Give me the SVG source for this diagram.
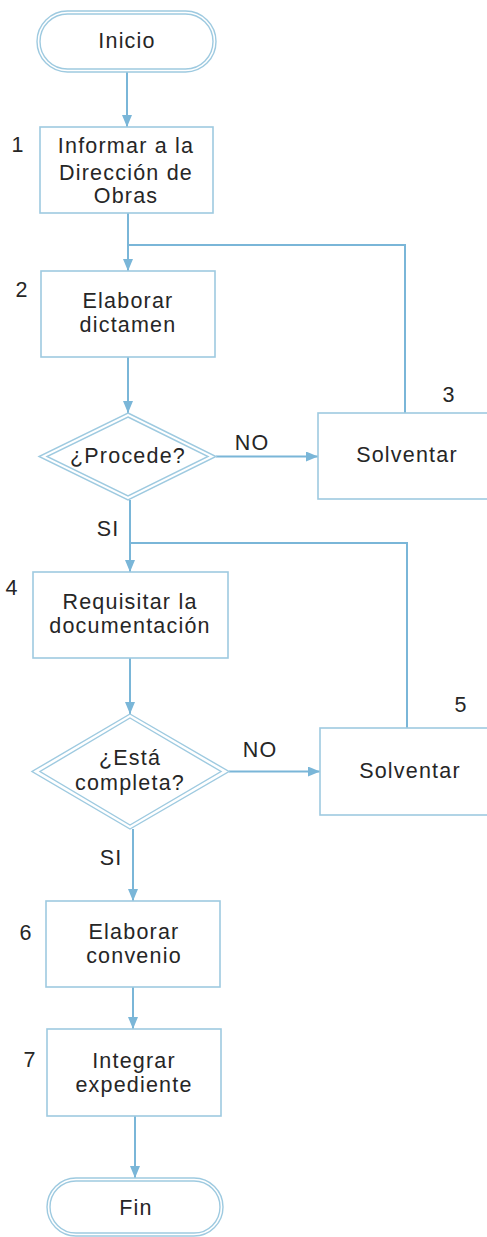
<svg xmlns="http://www.w3.org/2000/svg" width="487" height="1237" viewBox="0 0 487 1237">
<style>
.bg{fill:#ffffff}
.box{fill:#ffffff;stroke:#9ecae0;stroke-width:1.6}
.dbl{fill:none;stroke:#9ecae0;stroke-width:1.4}
.ln{fill:none;stroke:#7ab6d8;stroke-width:2}
text{font-family:"Liberation Sans",Arial,sans-serif;font-size:21.5px;fill:#262626;letter-spacing:1.2px}
.c{text-anchor:middle}
</style>
<defs>
<marker id="ah" viewBox="0 0 12 10" refX="12" refY="5" markerWidth="12" markerHeight="10" markerUnits="userSpaceOnUse" orient="auto">
<path d="M0,0 L12,5 L0,10 Z" fill="#7ab6d8"/>
</marker>
</defs>
<rect class="bg" x="0" y="0" width="487" height="1237"/>
<g id="connectors">
<line class="ln" x1="127" y1="72" x2="127" y2="127" marker-end="url(#ah)"/>
<line class="ln" x1="128" y1="213" x2="128" y2="271" marker-end="url(#ah)"/>
<polyline class="ln" points="405,413 405,245 128,245"/>
<line class="ln" x1="128" y1="357" x2="128" y2="413" marker-end="url(#ah)"/>
<line class="ln" x1="216" y1="456.5" x2="318" y2="456.5" marker-end="url(#ah)"/>
<line class="ln" x1="130" y1="500" x2="130" y2="572" marker-end="url(#ah)"/>
<polyline class="ln" points="407,728 407,543 130,543"/>
<line class="ln" x1="130" y1="658" x2="130" y2="714" marker-end="url(#ah)"/>
<line class="ln" x1="229" y1="771.5" x2="320" y2="771.5" marker-end="url(#ah)"/>
<line class="ln" x1="133" y1="829" x2="133" y2="901" marker-end="url(#ah)"/>
<line class="ln" x1="133" y1="987" x2="133" y2="1029" marker-end="url(#ah)"/>
<line class="ln" x1="135" y1="1116" x2="135" y2="1178" marker-end="url(#ah)"/>
<text x="252" y="450" class="c">NO</text>
<text x="260" y="757" class="c">NO</text>
<text x="108" y="536" class="c">SI</text>
<text x="111" y="865" class="c">SI</text>
</g>
<g id="inicio">
<rect class="dbl" x="37" y="11" width="179" height="61" rx="30.5"/>
<rect class="dbl" x="40" y="14" width="173" height="55" rx="27.5"/>
<text x="127" y="48" class="c">Inicio</text>
</g>
<g id="n1">
<rect class="box" x="40" y="127" width="173" height="86"/>
<text x="126" y="153" class="c">Informar a la</text>
<text x="126" y="180" class="c">Dirección de</text>
<text x="126" y="203" class="c">Obras</text>
<text x="18" y="152" class="c">1</text>
</g>
<g id="n2">
<rect class="box" x="41" y="271" width="174" height="86"/>
<text x="128" y="308" class="c">Elaborar</text>
<text x="128" y="332" class="c">dictamen</text>
<text x="22" y="297" class="c">2</text>
</g>
<g id="d1">
<polygon class="dbl" points="128,413 216,456.5 128,500 39,456.5"/>
<polygon class="dbl" points="128,417 208,456.5 128,496 47,456.5"/>
<text x="128" y="463" class="c">¿Procede?</text>
</g>
<g id="n3">
<rect class="box" x="318" y="413" width="175" height="86"/>
<text x="407" y="462" class="c">Solventar</text>
<text x="449" y="402" class="c">3</text>
</g>
<g id="n4">
<rect class="box" x="33" y="572" width="195" height="86"/>
<text x="130" y="609" class="c">Requisitar la</text>
<text x="130" y="633" class="c">documentación</text>
<text x="12" y="595" class="c">4</text>
</g>
<g id="d2">
<polygon class="dbl" points="130,714 229,771.5 130,829 32,771.5"/>
<polygon class="dbl" points="130,718 221,771.5 130,825 40,771.5"/>
<text x="130" y="765" class="c">¿Está</text>
<text x="130" y="790" class="c">completa?</text>
</g>
<g id="n5">
<rect class="box" x="320" y="728" width="175" height="87"/>
<text x="410" y="778" class="c">Solventar</text>
<text x="461" y="712" class="c">5</text>
</g>
<g id="n6">
<rect class="box" x="46" y="901" width="174" height="86"/>
<text x="134" y="939" class="c">Elaborar</text>
<text x="134" y="963" class="c">convenio</text>
<text x="26" y="940" class="c">6</text>
</g>
<g id="n7">
<rect class="box" x="47" y="1029" width="174" height="87"/>
<text x="134" y="1068" class="c">Integrar</text>
<text x="134" y="1092" class="c">expediente</text>
<text x="30" y="1067" class="c">7</text>
</g>
<g id="fin">
<rect class="dbl" x="47" y="1178" width="176" height="58" rx="29"/>
<rect class="dbl" x="50" y="1181" width="170" height="52" rx="26"/>
<text x="136" y="1215" class="c">Fin</text>
</g>
</svg>
